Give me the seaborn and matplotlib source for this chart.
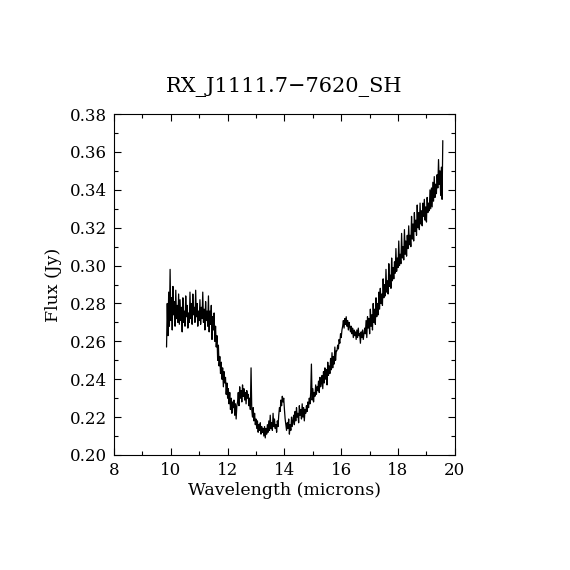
import matplotlib
matplotlib.use("Agg")
import matplotlib.pyplot as plt
from matplotlib.ticker import MultipleLocator
import seaborn as sns

sns.set_style("ticks")
plt.rcParams['font.family'] = ['DejaVu Serif']
plt.rcParams['text.color'] = 'black'
plt.rcParams['axes.labelcolor'] = 'black'

# spectrum, 0.025 micron steps
wavelength = [
    9.850, 9.875, 9.900, 9.925, 9.950, 9.975, 10.000, 10.025, 10.050, 10.075,
    10.100, 10.125, 10.150, 10.175, 10.200, 10.225, 10.250, 10.275, 10.300, 10.325,
    10.350, 10.375, 10.400, 10.425, 10.450, 10.475, 10.500, 10.525, 10.550, 10.575,
    10.600, 10.625, 10.650, 10.675, 10.700, 10.725, 10.750, 10.775, 10.800, 10.825,
    10.850, 10.875, 10.900, 10.925, 10.950, 10.975, 11.000, 11.025, 11.050, 11.075,
    11.100, 11.125, 11.150, 11.175, 11.200, 11.225, 11.250, 11.275, 11.300, 11.325,
    11.350, 11.375, 11.400, 11.425, 11.450, 11.475, 11.500, 11.525, 11.550, 11.575,
    11.600, 11.625, 11.650, 11.675, 11.700, 11.725, 11.750, 11.775, 11.800, 11.825,
    11.850, 11.875, 11.900, 11.925, 11.950, 11.975, 12.000, 12.025, 12.050, 12.075,
    12.100, 12.125, 12.150, 12.175, 12.200, 12.225, 12.250, 12.275, 12.300, 12.325,
    12.350, 12.375, 12.400, 12.425, 12.450, 12.475, 12.500, 12.525, 12.550, 12.575,
    12.600, 12.625, 12.650, 12.675, 12.700, 12.725, 12.750, 12.775, 12.800, 12.825,
    12.850, 12.875, 12.900, 12.925, 12.950, 12.975, 13.000, 13.025, 13.050, 13.075,
    13.100, 13.125, 13.150, 13.175, 13.200, 13.225, 13.250, 13.275, 13.300, 13.325,
    13.350, 13.375, 13.400, 13.425, 13.450, 13.475, 13.500, 13.525, 13.550, 13.575,
    13.600, 13.625, 13.650, 13.675, 13.700, 13.725, 13.750, 13.775, 13.800, 13.825,
    13.850, 13.875, 13.900, 13.925, 13.950, 13.975, 14.000, 14.025, 14.050, 14.075,
    14.100, 14.125, 14.150, 14.175, 14.200, 14.225, 14.250, 14.275, 14.300, 14.325,
    14.350, 14.375, 14.400, 14.425, 14.450, 14.475, 14.500, 14.525, 14.550, 14.575,
    14.600, 14.625, 14.650, 14.675, 14.700, 14.725, 14.750, 14.775, 14.800, 14.825,
    14.850, 14.875, 14.900, 14.925, 14.950, 14.975, 15.000, 15.025, 15.050, 15.075,
    15.100, 15.125, 15.150, 15.175, 15.200, 15.225, 15.250, 15.275, 15.300, 15.325,
    15.350, 15.375, 15.400, 15.425, 15.450, 15.475, 15.500, 15.525, 15.550, 15.575,
    15.600, 15.625, 15.650, 15.675, 15.700, 15.725, 15.750, 15.775, 15.800, 15.825,
    15.850, 15.875, 15.900, 15.925, 15.950, 15.975, 16.000, 16.025, 16.050, 16.075,
    16.100, 16.125, 16.150, 16.175, 16.200, 16.225, 16.250, 16.275, 16.300, 16.325,
    16.350, 16.375, 16.400, 16.425, 16.450, 16.475, 16.500, 16.525, 16.550, 16.575,
    16.600, 16.625, 16.650, 16.675, 16.700, 16.725, 16.750, 16.775, 16.800, 16.825,
    16.850, 16.875, 16.900, 16.925, 16.950, 16.975, 17.000, 17.025, 17.050, 17.075,
    17.100, 17.125, 17.150, 17.175, 17.200, 17.225, 17.250, 17.275, 17.300, 17.325,
    17.350, 17.375, 17.400, 17.425, 17.450, 17.475, 17.500, 17.525, 17.550, 17.575,
    17.600, 17.625, 17.650, 17.675, 17.700, 17.725, 17.750, 17.775, 17.800, 17.825,
    17.850, 17.875, 17.900, 17.925, 17.950, 17.975, 18.000, 18.025, 18.050, 18.075,
    18.100, 18.125, 18.150, 18.175, 18.200, 18.225, 18.250, 18.275, 18.300, 18.325,
    18.350, 18.375, 18.400, 18.425, 18.450, 18.475, 18.500, 18.525, 18.550, 18.575,
    18.600, 18.625, 18.650, 18.675, 18.700, 18.725, 18.750, 18.775, 18.800, 18.825,
    18.850, 18.875, 18.900, 18.925, 18.950, 18.975, 19.000, 19.025, 19.050, 19.075,
    19.100, 19.125, 19.150, 19.175, 19.200, 19.225, 19.250, 19.275, 19.300, 19.325,
    19.350, 19.375, 19.400, 19.425, 19.450, 19.475, 19.500, 19.525, 19.550, 19.575,
]
flux = [
    0.257, 0.280, 0.263, 0.286, 0.268, 0.298, 0.271, 0.283, 0.266, 0.289,
    0.274, 0.281, 0.268, 0.287, 0.272, 0.279, 0.270, 0.285, 0.269, 0.282,
    0.271, 0.278, 0.265, 0.283, 0.270, 0.276, 0.268, 0.284, 0.273, 0.279,
    0.267, 0.275, 0.270, 0.286, 0.272, 0.280, 0.269, 0.285, 0.274, 0.278,
    0.270, 0.287, 0.273, 0.280, 0.268, 0.276, 0.271, 0.282, 0.269, 0.278,
    0.272, 0.286, 0.270, 0.277, 0.266, 0.281, 0.271, 0.276, 0.268, 0.284,
    0.265, 0.276, 0.269, 0.279, 0.261, 0.273, 0.266, 0.275, 0.260, 0.268,
    0.257, 0.263, 0.250, 0.258, 0.247, 0.252, 0.243, 0.249, 0.240, 0.246,
    0.236, 0.244, 0.238, 0.241, 0.232, 0.238, 0.230, 0.235, 0.227, 0.233,
    0.224, 0.230, 0.222, 0.228, 0.225, 0.229, 0.221, 0.227, 0.219, 0.226,
    0.228, 0.233, 0.226, 0.236, 0.230, 0.234, 0.228, 0.237, 0.231, 0.235,
    0.229, 0.233, 0.227, 0.234, 0.230, 0.232, 0.226, 0.230, 0.224, 0.246,
    0.224, 0.220, 0.225, 0.218, 0.222, 0.216, 0.219, 0.214, 0.218, 0.212,
    0.216, 0.213, 0.217, 0.211, 0.215, 0.212, 0.214, 0.210, 0.215, 0.209,
    0.214, 0.211, 0.216, 0.212, 0.218, 0.213, 0.221, 0.214, 0.217, 0.213,
    0.222, 0.215, 0.219, 0.214, 0.216, 0.212, 0.218, 0.215, 0.221, 0.225,
    0.223, 0.229, 0.226, 0.231, 0.228, 0.230, 0.224, 0.219, 0.216, 0.213,
    0.217, 0.214, 0.219, 0.211, 0.216, 0.213, 0.220, 0.215, 0.218, 0.221,
    0.216, 0.223, 0.218, 0.225, 0.220, 0.222, 0.217, 0.226, 0.221, 0.224,
    0.219, 0.227, 0.220, 0.225, 0.218, 0.224, 0.222, 0.226, 0.223, 0.228,
    0.225, 0.230, 0.227, 0.233, 0.248, 0.229, 0.235, 0.228, 0.233, 0.231,
    0.237, 0.232, 0.236, 0.234, 0.239, 0.233, 0.241, 0.236, 0.238, 0.242,
    0.235, 0.244, 0.238, 0.246, 0.240, 0.245, 0.237, 0.249, 0.242, 0.247,
    0.243, 0.251, 0.245, 0.254, 0.246, 0.252, 0.248, 0.257, 0.250, 0.255,
    0.255, 0.258, 0.256, 0.261, 0.259, 0.264, 0.262, 0.266, 0.268, 0.271,
    0.267, 0.272, 0.269, 0.273, 0.268, 0.271, 0.266, 0.270, 0.268, 0.265,
    0.268, 0.264, 0.267, 0.262, 0.266, 0.263, 0.265, 0.261, 0.266, 0.262,
    0.267, 0.263, 0.264, 0.259, 0.265, 0.262, 0.266, 0.261, 0.264, 0.267,
    0.264, 0.271, 0.262, 0.273, 0.267, 0.272, 0.264, 0.277, 0.268, 0.274,
    0.266, 0.280, 0.270, 0.277, 0.269, 0.283, 0.273, 0.280, 0.274, 0.286,
    0.277, 0.288, 0.280, 0.285, 0.279, 0.293, 0.283, 0.290, 0.284, 0.298,
    0.286, 0.292, 0.285, 0.301, 0.289, 0.295, 0.288, 0.304, 0.292, 0.299,
    0.293, 0.302, 0.296, 0.309, 0.297, 0.304, 0.299, 0.313, 0.300, 0.306,
    0.301, 0.317, 0.304, 0.310, 0.303, 0.319, 0.306, 0.313, 0.305, 0.316,
    0.309, 0.321, 0.311, 0.316, 0.310, 0.326, 0.314, 0.322, 0.313, 0.328,
    0.318, 0.324, 0.316, 0.332, 0.320, 0.328, 0.319, 0.333, 0.322, 0.329,
    0.321, 0.333, 0.326, 0.335, 0.324, 0.331, 0.323, 0.336, 0.328, 0.333,
    0.329, 0.340, 0.330, 0.341, 0.331, 0.344, 0.334, 0.347, 0.336, 0.343,
    0.338, 0.348, 0.341, 0.356, 0.343, 0.350, 0.337, 0.352, 0.335, 0.366,
]

fig = plt.figure(figsize=(5.7, 5.7), dpi=100)
ax = fig.add_axes([0.2, 0.2018, 0.598, 0.598])

sns.lineplot(x=wavelength, y=flux, color='black', linewidth=0.9,
             estimator=None, ax=ax)

ax.set_xlim(8, 20)
ax.set_ylim(0.20, 0.38)
ax.xaxis.set_major_locator(MultipleLocator(2))
ax.xaxis.set_minor_locator(MultipleLocator(1))
ax.yaxis.set_major_locator(MultipleLocator(0.02))
ax.yaxis.set_minor_locator(MultipleLocator(0.01))
ax.yaxis.set_major_formatter(plt.FormatStrFormatter('%.2f'))

ax.tick_params(which='both', direction='in', top=True, right=True,
               width=0.8, colors='black', labelsize=12)
ax.tick_params(which='major', length=5, pad=5)
ax.tick_params(which='minor', length=3)
for s in ax.spines.values():
    s.set_linewidth(0.8)
    s.set_color('black')

ax.set_title('RX_J1111.7\u22127620_SH', fontsize=15, pad=16, color='black')
ax.set_xlabel('Wavelength (microns)', fontsize=12.5, labelpad=2)
ax.set_ylabel('Flux (Jy)', fontsize=12.5, labelpad=6)

fig.savefig('out.png', dpi=100)
